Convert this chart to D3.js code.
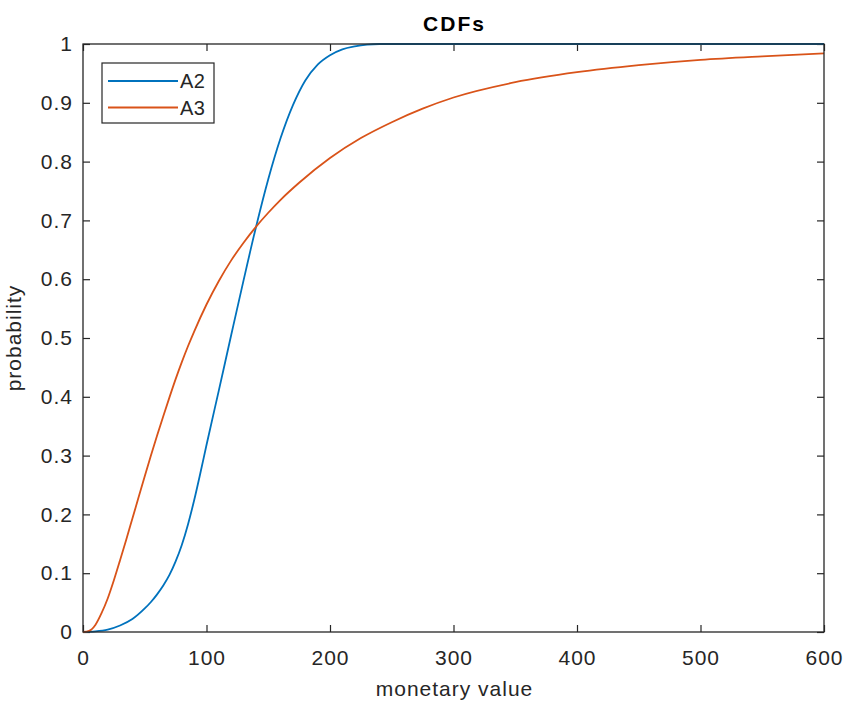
<!DOCTYPE html>
<html>
<head>
<meta charset="utf-8">
<script src="https://cdn.jsdelivr.net/npm/d3@7"></script>
<style>
  body { margin: 0; background: #fff; }
  text { font-family: "Liberation Sans", Arial, sans-serif; fill: #262626; }
</style>
</head>
<body>
<div class="chart"></div>
<script>
// values
var seriesNames = ["A2", "A3"]
var seriesColors = ["#0072BD", "#D95319"]

var a2X = [0, 10, 20, 30, 40, 50, 55, 60, 65, 70, 75, 80, 85, 90, 95, 100, 110, 120, 130, 140, 150, 160, 170, 180, 190, 200, 210, 220, 230, 240, 300, 400, 500, 600]
var a2P = [0, 0.001, 0.004, 0.011, 0.022, 0.040, 0.051, 0.064, 0.079, 0.097, 0.120, 0.148, 0.183, 0.224, 0.270, 0.318, 0.411, 0.505, 0.598, 0.688, 0.770, 0.840, 0.896, 0.938, 0.965, 0.981, 0.991, 0.996, 0.999, 1, 1, 1, 1, 1]

var a3X = [0, 5, 10, 15, 20, 25, 30, 35, 40, 45, 50, 55, 60, 65, 70, 75, 80, 85, 90, 100, 110, 120, 130, 140, 150, 160, 175, 200, 225, 250, 275, 300, 350, 400, 450, 500, 550, 600]
var a3P = [0, 0.002, 0.012, 0.032, 0.057, 0.088, 0.122, 0.157, 0.193, 0.229, 0.265, 0.300, 0.334, 0.367, 0.399, 0.430, 0.459, 0.486, 0.511, 0.557, 0.597, 0.632, 0.662, 0.689, 0.713, 0.735, 0.764, 0.806, 0.840, 0.867, 0.890, 0.909, 0.935, 0.952, 0.964, 0.973, 0.979, 0.984]

var xTicks = [0, 100, 200, 300, 400, 500, 600]
var yTicks = [0, 0.1, 0.2, 0.3, 0.4, 0.5, 0.6, 0.7, 0.8, 0.9, 1]

var margin = {top: 44, right: 22, bottom: 74, left: 83}
var width = 846 - margin.left - margin.right
var height = 706 - margin.top - margin.bottom

var xScale = d3.scaleLinear().domain([0, 600]).range([0, width])
var yScale = d3.scaleLinear().domain([0, 1]).range([height, 0])

var svg = d3.select(".chart")
    .append("svg")
        .attr("width", 846)
        .attr("height", 706)
    .append("g")
        .attr("transform", "translate(" + margin.left + "," + margin.top + ")")

var fmtY = d => d3.format("~g")(d)

function styleAxis(g) {
    g.select(".domain").remove()
    g.selectAll(".tick line").attr("stroke", "#262626").attr("stroke-width", 1.2)
    g.selectAll(".tick text")
        .style("font-size", "21px")
        .style("letter-spacing", "1px")
        .style("fill", "#262626")
}

// bottom / left with labels, top / right ticks only (ticks point inward)
svg.append("g")
    .attr("transform", "translate(0," + height + ")")
    .call(d3.axisBottom(xScale).tickValues(xTicks).tickSize(-7).tickPadding(18).tickFormat(d3.format("d")))
    .call(styleAxis)

svg.append("g")
    .call(d3.axisTop(xScale).tickValues(xTicks).tickSize(-7).tickFormat(""))
    .call(styleAxis)

svg.append("g")
    .call(d3.axisLeft(yScale).tickValues(yTicks).tickSize(-7).tickPadding(10).tickFormat(fmtY))
    .call(styleAxis)

svg.append("g")
    .attr("transform", "translate(" + width + ",0)")
    .call(d3.axisRight(yScale).tickValues(yTicks).tickSize(-7).tickFormat(""))
    .call(styleAxis)

var line = d3.line()
    .x(d => xScale(d[0]))
    .y(d => yScale(d[1]))
    .curve(d3.curveMonotoneX)

var series = [d3.zip(a2X, a2P), d3.zip(a3X, a3P)]

svg.selectAll(".series")
    .data(series)
    .enter().append("path")
    .attr("class", "series")
    .attr("fill", "none")
    .attr("stroke", (d, i) => seriesColors[i])
    .attr("stroke-width", 1.8)
    .attr("d", line)

// frame
svg.append("rect")
    .attr("width", width)
    .attr("height", height)
    .attr("fill", "none")
    .attr("stroke", "#262626")
    .attr("stroke-width", 1.3)

// title and axis labels
svg.append("text")
    .attr("x", width / 2 + 1)
    .attr("y", -13)
    .attr("text-anchor", "middle")
    .style("font-size", "21px")
    .style("letter-spacing", "2px")
    .style("font-weight", "bold")
    .style("fill", "#000")
    .text("CDFs")

svg.append("text")
    .attr("x", width / 2 + 1)
    .attr("y", height + 64)
    .attr("text-anchor", "middle")
    .style("font-size", "21px")
    .style("letter-spacing", "1px")
    .text("monetary value")

svg.append("text")
    .attr("transform", "translate(-62," + height / 2 + ") rotate(-90)")
    .attr("text-anchor", "middle")
    .style("font-size", "21px")
    .style("letter-spacing", "1px")
    .text("probability")

// legend
var legend = svg.append("g").attr("transform", "translate(19,19)")
legend.append("rect")
    .attr("width", 112)
    .attr("height", 60)
    .attr("fill", "#fff")
    .attr("stroke", "#262626")
    .attr("stroke-width", 1.2)

seriesNames.forEach(function(name, i) {
    var y = 18 + i * 26.5
    legend.append("line")
        .attr("x1", 6).attr("x2", 76)
        .attr("y1", y).attr("y2", y)
        .attr("stroke", seriesColors[i])
        .attr("stroke-width", 1.8)
    legend.append("text")
        .attr("x", 78)
        .attr("y", y)
        .attr("dy", "0.35em")
        .style("font-size", "20px")
        .style("letter-spacing", "0.5px")
        .text(name)
})
</script>
</body>
</html>
